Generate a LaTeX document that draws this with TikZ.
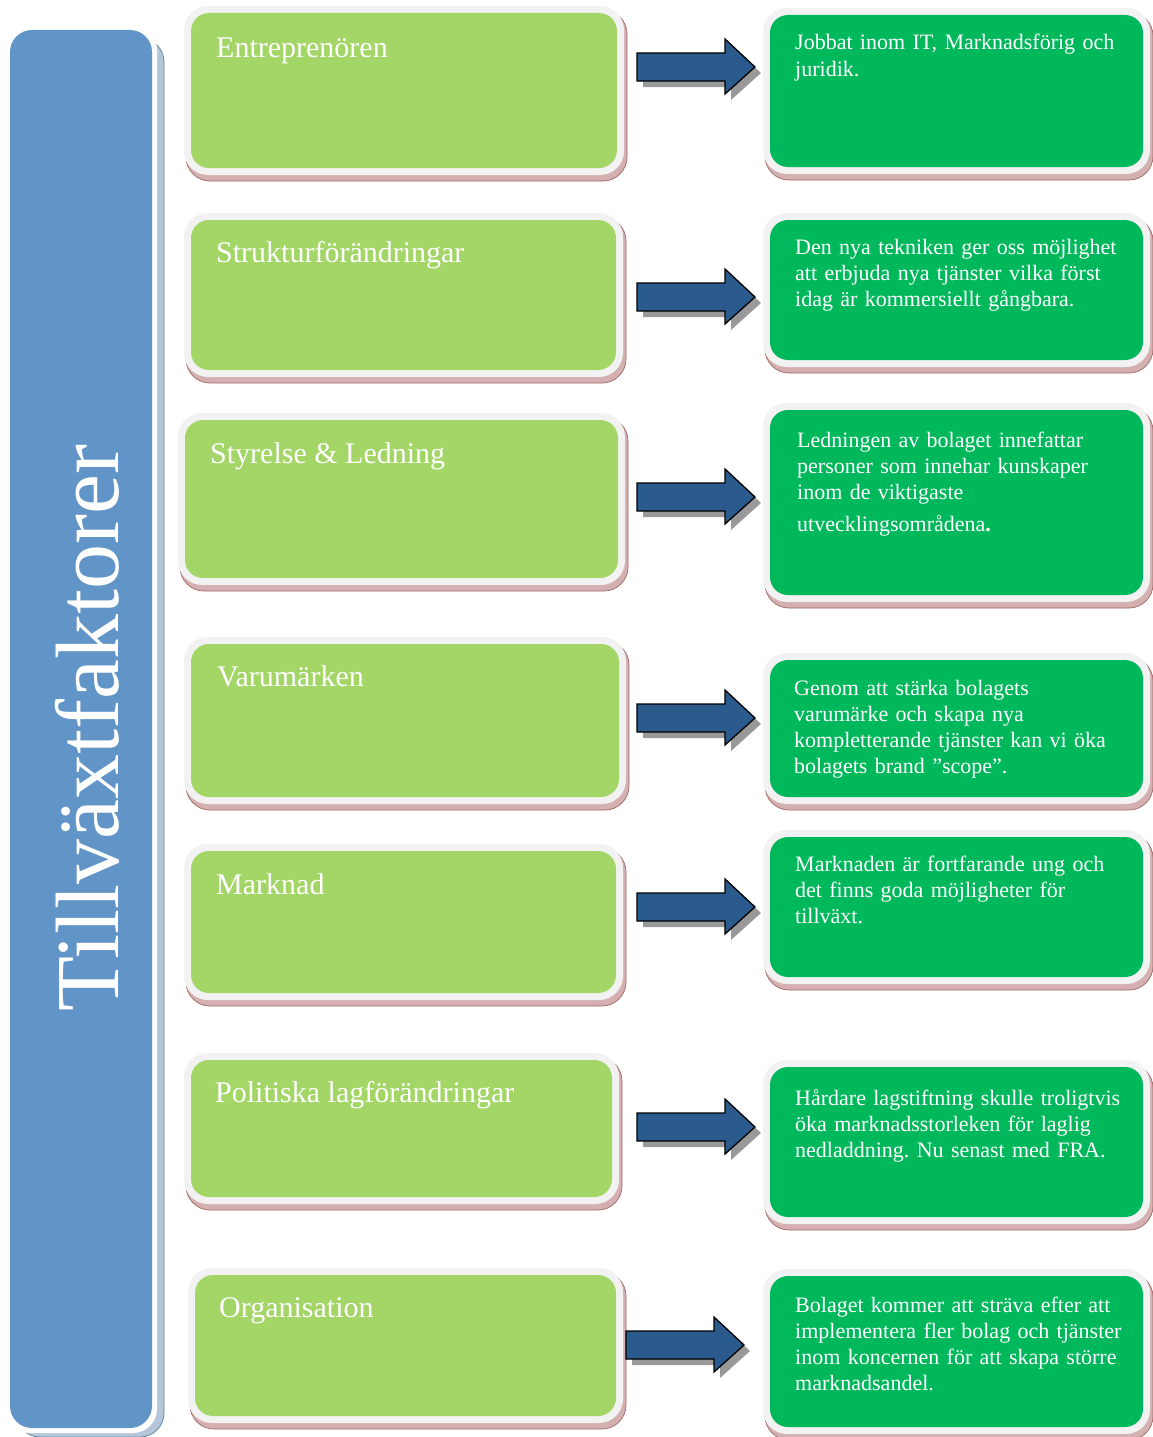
\documentclass[tikz,border=0pt]{standalone}
\usepackage{fontspec}
\setmainfont{Liberation Serif}
\usetikzlibrary{fit}
\frenchspacing
\definecolor{lgreen}{HTML}{A3D667}
\definecolor{dgreen}{HTML}{00B85C}
\definecolor{lblue}{HTML}{6194C7}
\definecolor{arrowblue}{HTML}{2B5B8C}
\definecolor{framec}{HTML}{F2F2F2}
\definecolor{shadowc}{HTML}{D4B0B0}
\definecolor{shadowd}{HTML}{A06868}
\definecolor{bshadowc}{HTML}{B4C6D8}
\definecolor{bshadowd}{HTML}{5F7F9F}
\tikzset{
  boxshadow/.style={fill=shadowc, draw=shadowd, line width=0.7pt, rounded corners=24pt},
  boxframe/.style={fill=framec, rounded corners=24pt},
  greenbox/.style={fill=#1, rounded corners=18pt, inner sep=0pt},
  titletext/.style={anchor=base west, inner sep=0pt, text=white, font=\fontsize{30}{36}\selectfont},
  desctext/.style={anchor=base west, inner sep=0pt, text=white, text width=352pt, align=left, font=\fontsize{22}{26}\selectfont},
  arrowbody/.style={fill=arrowblue, draw=black, line width=1.3pt, line join=miter},
  arrowshadow/.style={fill=black!40},
}
\newcommand\panel[6]{%
  \path[boxshadow] (#2-5,#3-3) rectangle (#4+10,#5+13);
  \path[boxframe] (#2-7,#3-7) rectangle (#4+7,#5+7);
  \node[greenbox=#6, fit={(#2,#3) (#4,#5)}] (#1) {};
}
\newcommand\blockarrow[2]{%
  \path[arrowshadow] (#1+6,#2-8) -- (#1+94,#2-8) -- (#1+94,#2-22) -- (#1+124,#2+6) -- (#1+94,#2+33) -- (#1+94,#2+20) -- (#1+6,#2+20) -- cycle;
  \path[arrowbody] (#1,#2-14) -- (#1+88,#2-14) -- (#1+88,#2-28) -- (#1+118,#2) -- (#1+88,#2+27) -- (#1+88,#2+14) -- (#1,#2+14) -- cycle;
}
\begin{document}
\begin{tikzpicture}[x=1pt,y=-1pt]
\path[fill=white, use as bounding box] (0,0) rectangle (1152,1437);
% side bar
\path[fill=bshadowc, draw=bshadowd, line width=0.7pt, rounded corners=24pt] (16,38) rectangle (164,1437);
\path[fill=white, rounded corners=24pt] (5,25) rectangle (157,1433);
\node[fit={(10,30) (152,1428)}, fill=lblue, rounded corners=22pt, inner sep=0pt] (side) {};
\node[rotate=90, anchor=base, inner sep=0pt, text=white, font=\fontsize{90}{100}\selectfont] (sidetitle) at (118,728) {Tillväxtfaktorer};
% left panels
\panel{l1}{191}{13}{617}{168}{lgreen}
\panel{l2}{191}{220}{616}{370}{lgreen}
\panel{l3}{185}{420}{618}{578}{lgreen}
\panel{l4}{191}{644}{619}{797}{lgreen}
\panel{l5}{191}{851}{616}{993}{lgreen}
\panel{l6}{191}{1060}{612}{1197}{lgreen}
\panel{l7}{195}{1275}{616}{1416}{lgreen}
\node[titletext] (t1) at (216,57) {Entreprenören};
\node[titletext] (t2) at (216,262) {Strukturförändringar};
\node[titletext] (t3) at (210,463) {Styrelse \& Ledning};
\node[titletext] (t4) at (217,686) {Varumärken};
\node[titletext] (t5) at (216,894) {Marknad};
\node[titletext] (t6) at (215,1102) {Politiska lagförändringar};
\node[titletext] (t7) at (219,1317) {Organisation};
% right panels
\panel{r1}{770}{15}{1143}{167}{dgreen}
\panel{r2}{770}{220}{1143}{360}{dgreen}
\panel{r3}{770}{410}{1143}{595}{dgreen}
\panel{r4}{770}{660}{1143}{797}{dgreen}
\panel{r5}{770}{837}{1143}{977}{dgreen}
\panel{r6}{770}{1067}{1143}{1217}{dgreen}
\panel{r7}{770}{1276}{1143}{1427}{dgreen}
\node[desctext] (d1) at (795,50) {Jobbat inom IT, Marknadsförig och\\juridik.};
\node[desctext] (d2) at (795,254) {Den nya tekniken ger oss möjlighet\\att erbjuda nya tjänster vilka först\\idag är kommersiellt gångbara.};
\node[desctext] (d3) at (797,447) {Ledningen av bolaget innefattar\\personer som innehar kunskaper\\inom de viktigaste\\[6pt]utvecklingsområdena\textbf{.}};
\node[desctext] (d4) at (794,695) {Genom att stärka bolagets\\varumärke och skapa nya\\kompletterande tjänster kan vi öka\\bolagets brand ”scope”.};
\node[desctext] (d5) at (795,871) {Marknaden är fortfarande ung och\\det finns goda möjligheter för\\tillväxt.};
\node[desctext] (d6) at (795,1105) {Hårdare lagstiftning skulle troligtvis\\öka marknadsstorleken för laglig\\nedladdning. Nu senast med FRA.};
\node[desctext] (d7) at (795,1312) {Bolaget kommer att sträva efter att\\implementera fler bolag och tjänster\\inom koncernen för att skapa större\\marknadsandel.};
% arrows
\blockarrow{637}{67}
\blockarrow{637}{297}
\blockarrow{637}{497}
\blockarrow{637}{718}
\blockarrow{637}{907}
\blockarrow{637}{1127}
\blockarrow{626}{1345}
\end{tikzpicture}
\end{document}
